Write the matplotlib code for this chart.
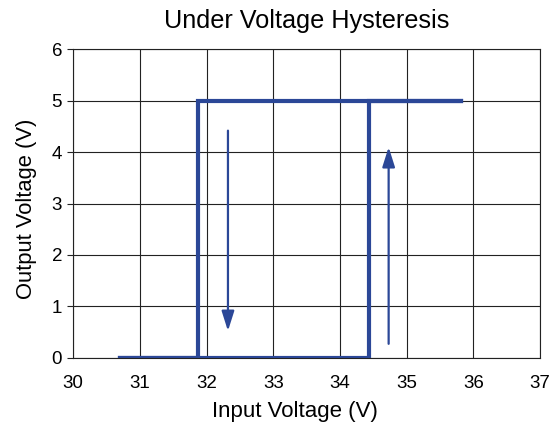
import numpy as np
import matplotlib.pyplot as plt

plt.rcParams['font.family'] = ['Liberation Sans', 'DejaVu Sans']

# hysteresis data (input voltage rising / falling)
rise_x = [30.7, 34.43, 34.43, 35.82]
rise_y = [0, 0, 5, 5]
fall_x = [35.82, 31.87, 31.87, 30.7]
fall_y = [5, 5, 0, 0]

# direction arrows: (x, y_start, y_end)
down_arrow = (32.32, 4.42, 0.52)
up_arrow = (34.73, 0.27, 4.1)

xticks = [30, 31, 32, 33, 34, 35, 36, 37]
yticks = [0, 1, 2, 3, 4, 5, 6]

blue = '#2b4797'

fig = plt.figure(figsize=(5.56, 4.23), dpi=100)
ax = fig.add_axes([0.1318, 0.1544, 0.8394, 0.7286])

ax.plot(rise_x, rise_y, color=blue, lw=3, solid_joinstyle='miter', zorder=3)
ax.plot(fall_x, fall_y, color=blue, lw=3, solid_joinstyle='miter', zorder=3)

for x, y0, y1 in [down_arrow, up_arrow]:
    ax.annotate('', xy=(x, y1), xytext=(x, y0),
                arrowprops=dict(arrowstyle='-|>,head_width=0.38,head_length=1.2',
                                color=blue, lw=1.6, shrinkA=0, shrinkB=0),
                zorder=3)

ax.set_xlim(30, 37)
ax.set_ylim(0, 6)
ax.set_xticks(xticks)
ax.set_yticks(yticks)
ax.grid(True, color='#222222', lw=0.8)
for s in ax.spines.values():
    s.set_color('#222222')
    s.set_linewidth(0.8)
ax.tick_params(axis='x', length=0, labelsize=13.5, pad=12.5)
ax.tick_params(axis='y', length=4, width=0.8, color='#222222', labelsize=13.5, pad=4)

ax.set_title('Under Voltage Hysteresis', fontsize=18.2, pad=15.5)
ax.set_xlabel('Input Voltage (V)', fontsize=16, va='baseline')
ax.xaxis.set_label_coords(0.475, -0.1914)
ax.set_ylabel('Output Voltage (V)', fontsize=15.8, va='center', ha='center')
ax.yaxis.set_label_coords(-0.1, 0.4825)

plt.savefig('out.png', dpi=100)
